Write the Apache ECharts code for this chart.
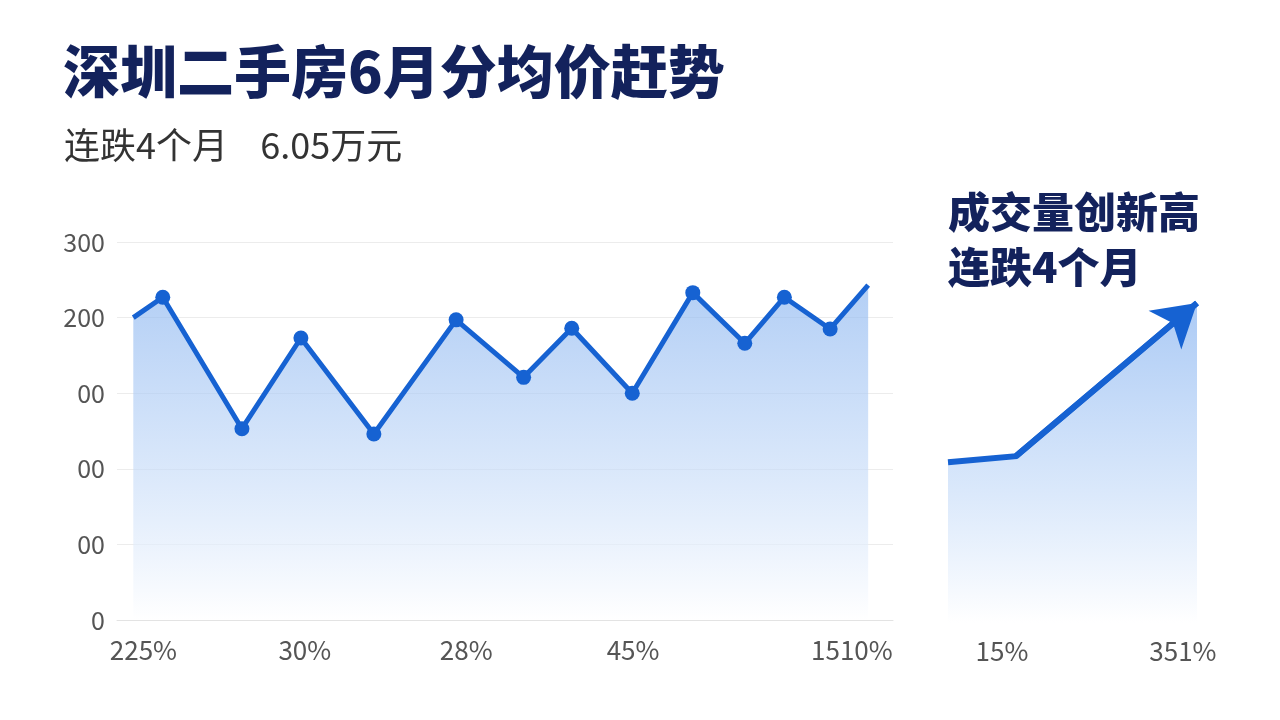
<!DOCTYPE html>
<html>
<head>
<meta charset="utf-8">
<script src="https://cdn.jsdelivr.net/npm/echarts@6/dist/echarts.min.js"></script>
<style>
html,body{margin:0;padding:0;background:#fff;}
#c{width:1280px;height:720px;}
</style>
</head>
<body>
<div id="c"></div>
<script>
// ---- data ----
const titleText = '深圳二手房6月分均价赶势';
const subText = '连跌4个月    6.05万元';
const sideTitle = '成交量创新高\n连跌4个月';

// main price trend (x position along period axis 0-100, y value)
const priceX = [2.1, 5.9, 16.1, 23.7, 33.1, 43.7, 52.4, 58.6, 66.4, 74.2, 80.9, 86.0, 91.9, 96.8];
const priceY = [400, 427, 253, 373, 246, 397, 321, 386, 300, 433, 366, 427, 385, 443];
const priceXTickPos = [3.4, 24.2, 45.0, 66.5, 94.7];
const priceXTickLabels = ['225%', '30%', '28%', '45%', '1510%'];
const priceYTickLabels = ['0', '00', '00', '00', '200', '300'];

// volume side chart
const volX = [0.8, 27.9, 100];
const volY = [211, 219, 420];
const volXTickPos = [22.3, 94.4];
const volXTickLabels = ['15%', '351%'];

// ---- chart ----
const FONT = '"Noto Sans CJK SC", "Noto Sans", sans-serif';
const NAVY = '#13225c';
const BLUE = '#1662d2';

function areaGrad(c0, c1) {
  return new echarts.graphic.LinearGradient(0, 0, 0, 1, [
    {offset: 0, color: c0},
    {offset: 0.55, color: c1},
    {offset: 1, color: 'rgba(255,255,255,1)'}
  ]);
}

const mainData = priceX.map((x, i) => {
  const d = {value: [x, priceY[i]]};
  if (i === 0 || i === priceX.length - 1) d.symbolSize = 0;
  return d;
});
const volData = volX.map((x, i) => [x, volY[i]]);

const chart = echarts.init(document.getElementById('c'), null, {renderer: 'canvas'});
chart.setOption({
  backgroundColor: '#ffffff',
  animation: false,
  textStyle: {fontFamily: FONT},
  title: [
    {text: titleText, left: 58, top: 38,
     textStyle: {fontFamily: FONT, fontSize: 57, fontWeight: 900, color: NAVY}},
    {text: subText, left: 59, top: 122,
     textStyle: {fontFamily: FONT, fontSize: 36, fontWeight: 'normal', color: '#333333'}},
    {text: sideTitle, left: 943, top: 180,
     textStyle: {fontFamily: FONT, fontSize: 42, fontWeight: 900, color: NAVY, lineHeight: 55}}
  ],
  grid: [
    {left: 117, right: 387, top: 242, bottom: 100},
    {left: 946, right: 83, top: 242, bottom: 97}
  ],
  xAxis: [
    {type: 'value', gridIndex: 0, min: 0, max: 100,
     splitLine: {show: false},
     axisLine: {show: true, lineStyle: {color: '#e3e3e3', width: 1}},
     axisTick: {show: false},
     axisLabel: {customValues: priceXTickPos,
       formatter: (v) => { const i = priceXTickPos.indexOf(v); return i >= 0 ? priceXTickLabels[i] : ''; },
       color: '#555555', fontSize: 26, margin: 17, fontFamily: FONT}},
    {type: 'value', gridIndex: 1, min: 0, max: 100,
     splitLine: {show: false},
     axisLine: {show: false},
     axisTick: {show: false},
     axisLabel: {customValues: volXTickPos,
       formatter: (v) => { const i = volXTickPos.indexOf(v); return i >= 0 ? volXTickLabels[i] : ''; },
       color: '#555555', fontSize: 26, margin: 15, fontFamily: FONT}}
  ],
  yAxis: [
    {type: 'value', gridIndex: 0, min: 0, max: 500, interval: 100,
     axisLine: {show: false}, axisTick: {show: false},
     splitLine: {lineStyle: {color: '#ececec', width: 1}},
     axisLabel: {formatter: (v) => priceYTickLabels[Math.round(v / 100)],
       color: '#555555', fontSize: 25, margin: 12, fontFamily: FONT}},
    {type: 'value', gridIndex: 1, min: 0, max: 500,
     show: false}
  ],
  series: [
    {type: 'line', xAxisIndex: 0, yAxisIndex: 0, data: mainData,
     symbol: 'circle', symbolSize: 15, showSymbol: true,
     lineStyle: {color: BLUE, width: 5, join: 'round'},
     itemStyle: {color: BLUE},
     areaStyle: {color: areaGrad('rgba(140,182,240,0.95)', 'rgba(196,218,248,0.9)')}},
    {type: 'line', xAxisIndex: 1, yAxisIndex: 1, data: volData,
     showSymbol: false, clip: false,
     lineStyle: {color: BLUE, width: 6, join: 'miter'},
     itemStyle: {color: BLUE},
     areaStyle: {color: areaGrad('rgba(130,176,240,0.95)', 'rgba(192,216,248,0.9)')},
     markLine: {silent: true, symbol: ['none', 'arrow'], symbolSize: [38, 42],
       lineStyle: {color: BLUE, width: 6, type: 'solid'},
       label: {show: false},
       data: [[{coord: volData[1]}, {coord: volData[2]}]]}}
  ]
});
</script>
</body>
</html>
